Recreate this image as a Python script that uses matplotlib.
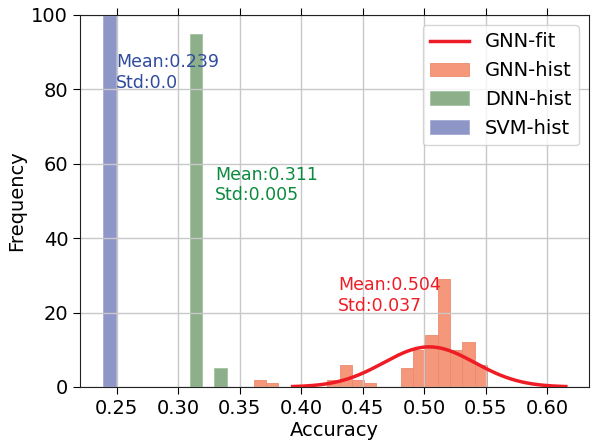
import numpy as np
import matplotlib
matplotlib.use('Agg')
import matplotlib.pyplot as plt

# 直方图数据
gnn_edges = [0.3614, 0.3714, 0.3813, 0.3913, 0.4013, 0.4112, 0.4212, 0.4312, 0.4411,
             0.4511, 0.4611, 0.4710, 0.4810, 0.4910, 0.5009, 0.5109, 0.5209, 0.5308,
             0.5408, 0.5508]
gnn_counts = [2, 1, 0, 0, 0, 0, 2, 6, 2, 1, 0, 0, 5, 10, 14, 29, 10, 12, 6]
dnn_edges = [0.3094, 0.3194, 0.3294, 0.3395]
dnn_counts = [95, 0, 5]
svm_edges = [0.2391, 0.2494]
svm_counts = [100]

gnn_mean, gnn_std = 0.504, 0.037
dnn_mean, dnn_std = 0.311, 0.005
svm_mean, svm_std = 0.239, 0.0

plt.rcParams['font.size'] = 14

fig = plt.figure(figsize=(5.91, 4.40), dpi=100)
ax = fig.add_axes([0.1354, 0.1205, 0.8612, 0.8455])

# 正态拟合曲线
x = np.linspace(gnn_mean - 3 * gnn_std, gnn_mean + 3 * gnn_std, 200)
bw = gnn_edges[1] - gnn_edges[0]
y = sum(gnn_counts) * bw / (gnn_std * np.sqrt(2 * np.pi)) * np.exp(-0.5 * ((x - gnn_mean) / gnn_std) ** 2)
ax.plot(x, y, color='#EE1C25', lw=2.5, label='GNN-fit', zorder=3)

ax.hist(gnn_edges[:-1], bins=gnn_edges, weights=gnn_counts, color='#F4977A',
        edgecolor='#EC8A6E', linewidth=0.6, label='GNN-hist')
ax.hist(dnn_edges[:-1], bins=dnn_edges, weights=dnn_counts, color='#8DB08A',
        edgecolor='#A3C2A0', linewidth=0.6, label='DNN-hist')
ax.hist(svm_edges[:-1], bins=svm_edges, weights=svm_counts, color='#8E96C8',
        edgecolor='#A4AAD4', linewidth=0.6, label='SVM-hist')

ax.text(0.2495, 89.8, 'Mean:%s\nStd:%s' % (svm_mean, svm_std), color='#2F4B9E',
        fontsize=12.5, va='top', ha='left')
ax.text(0.3300, 59.5, 'Mean:%s\nStd:%s' % (dnn_mean, dnn_std), color='#0B8A3E',
        fontsize=12.5, va='top', ha='left')
ax.text(0.4300, 29.8, 'Mean:%s\nStd:%s' % (gnn_mean, gnn_std), color='#EE1C25',
        fontsize=12.5, va='top', ha='left')

ax.set_ylim(0, 100)
ax.set_xticks([0.25, 0.30, 0.35, 0.40, 0.45, 0.50, 0.55, 0.60])
ax.set_yticks([0, 20, 40, 60, 80, 100])
ax.tick_params(top=True, direction='out', length=5)
ax.grid(True, color='#c8c8c8', lw=1)
for s in ax.spines.values():
    s.set_color('#222222')
ax.set_xlabel('Accuracy', labelpad=2)
ax.set_ylabel('Frequency')
ax.legend(loc='upper right', fontsize=14, handlelength=2.0)

fig.savefig('out.png', dpi=100)
